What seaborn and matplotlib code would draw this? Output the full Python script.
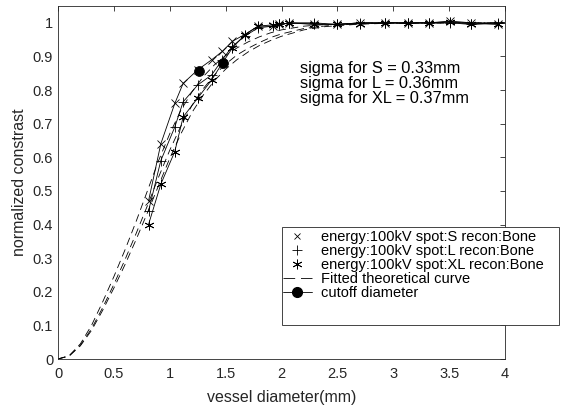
import matplotlib
matplotlib.use("Agg")
import matplotlib.pyplot as plt
from matplotlib.lines import Line2D
from matplotlib.patches import Rectangle
import seaborn as sns

# ---------------- data ----------------
x_meas = [0.81, 0.92, 1.045, 1.12, 1.25, 1.375, 1.47, 1.56, 1.67, 1.79, 1.92, 1.98,
          2.07, 2.29, 2.50, 2.70, 2.93, 3.13, 3.32, 3.51, 3.70, 3.94]
y_S = [0.47, 0.64, 0.76, 0.82, 0.86, 0.89, 0.915, 0.945, 0.965, 0.99, 0.99, 0.995,
       1.0, 0.995, 0.995, 1.0, 1.0, 1.0, 1.0, 1.005, 1.0, 0.995]
y_L = [0.44, 0.59, 0.69, 0.765, 0.815, 0.845, 0.89, 0.93, 0.96, 0.985, 0.99, 0.995,
       1.0, 1.0, 0.995, 1.0, 1.0, 1.0, 1.0, 1.0, 0.995, 1.0]
y_XL = [0.40, 0.52, 0.617, 0.72, 0.776, 0.83, 0.88, 0.925, 0.964, 0.99, 0.994, 0.995,
        0.999, 0.997, 0.995, 0.997, 1.0, 0.998, 1.0, 1.003, 0.997, 0.997]

x_fit = [0, 0.1, 0.2, 0.3, 0.4, 0.5, 0.6, 0.7, 0.8, 0.9, 1.0, 1.1, 1.2, 1.3, 1.4,
         1.5, 1.6, 1.7, 1.8, 1.9, 2.0, 2.2, 2.4, 2.7, 3.0, 4.0]
fit_S = [0, 0.01, 0.045, 0.10, 0.17, 0.245, 0.325, 0.41, 0.50, 0.59, 0.67,
         0.74, 0.795, 0.84, 0.875, 0.903, 0.925, 0.943, 0.958, 0.97, 0.979, 0.99,
         0.995, 0.999, 1.0, 1.0]
fit_L = [0, 0.009, 0.041, 0.090, 0.153, 0.222, 0.296, 0.374, 0.456, 0.541, 0.621,
         0.693, 0.755, 0.804, 0.845, 0.877, 0.904, 0.924, 0.941, 0.956, 0.967, 0.983,
         0.991, 0.997, 0.999, 1.0]
fit_XL = [0, 0.009, 0.039, 0.085, 0.145, 0.211, 0.281, 0.356, 0.435, 0.516, 0.597,
          0.67, 0.734, 0.785, 0.828, 0.862, 0.890, 0.913, 0.932, 0.947, 0.960, 0.979,
          0.989, 0.996, 0.999, 1.0]

cutoff_x = [1.26, 1.48]
cutoff_y = [0.858, 0.88]

sigma_lines = ["sigma for S = 0.33mm", "sigma for L = 0.36mm", "sigma for XL = 0.37mm"]
legend_labels = ["energy:100kV spot:S recon:Bone", "energy:100kV spot:L recon:Bone",
                 "energy:100kV spot:XL recon:Bone", "Fitted theoretical curve",
                 "cutoff diameter"]
x_ticks = [0, 0.5, 1, 1.5, 2, 2.5, 3, 3.5, 4]
x_ticklabels = ["0", "0.5", "1", "1.5", "2", "2.5", "3", "3.5", "4"]
y_ticks = [0, 0.1, 0.2, 0.3, 0.4, 0.5, 0.6, 0.7, 0.8, 0.9, 1.0]
y_ticklabels = ["0", "0.1", "0.2", "0.3", "0.4", "0.5", "0.6", "0.7", "0.8", "0.9", "1"]

# ---------------- style ----------------
sns.set_theme(style="white")
plt.rcParams['font.family'] = ['Liberation Sans', 'DejaVu Sans']
plt.rcParams['lines.scale_dashes'] = False
AX = '#262626'
W, H = 566, 411

fig = plt.figure(figsize=(W/100, H/100), dpi=100)
ax = fig.add_axes([58/W, 52/H, (505-58)/W, (359-6)/H])

ASTER = (6, 2, 0)
DASH = (5.5, 3.5)

# fitted curves
for fy in (fit_S, fit_L, fit_XL):
    sns.lineplot(x=x_fit, y=fy, ax=ax, color='black', lw=0.6, linestyle='--',
                 estimator=None, sort=False, legend=False)
for ln in ax.lines:
    ln.set_dashes(DASH)

# measured
for yy, mk, ms in ((y_S, 'x', 5.5), (y_L, '+', 7), (y_XL, ASTER, 7)):
    sns.lineplot(x=x_meas, y=yy, ax=ax, color='black', lw=0.6, marker=mk,
                 markersize=ms, markeredgecolor='black', markerfacecolor='black',
                 markeredgewidth=0.6, estimator=None, sort=False, legend=False)

# cutoff points
sns.scatterplot(x=cutoff_x, y=cutoff_y, ax=ax, color='black', s=50,
                edgecolor='black', zorder=5, legend=False)

ax.set_xlim(0, 4)
ax.set_ylim(0, 1.05)
ax.set_xticks(x_ticks)
ax.set_xticklabels(x_ticklabels)
ax.set_yticks(y_ticks)
ax.set_yticklabels(y_ticklabels)
ax.tick_params(direction='in', length=3.6, width=0.6, color=AX, labelcolor=AX,
               labelsize=10.5, top=True, right=True)
ax.tick_params(axis='x', pad=6)
ax.tick_params(axis='y', pad=3.5)
for sp in ax.spines.values():
    sp.set_color(AX)
    sp.set_linewidth(0.6)
    sp.set_visible(True)

ax.set_xlabel("vessel diameter(mm)", fontsize=11.5, color=AX, labelpad=6.5)
ax.set_ylabel("normalized constrast", fontsize=11.5, color=AX, labelpad=4)

ax.text(2.17, 0.82, "\n".join(sigma_lines), fontsize=11.8, color='black',
        ha='left', va='center', linespacing=1.02)

# legend frame (MATLAB style box with extra space at bottom)
frame = Rectangle((282.3/W, 1 - 325.3/H), (559.3-282.3)/W, (325.3-226.7)/H,
                  transform=fig.transFigure, facecolor='white', edgecolor=AX,
                  linewidth=0.6, zorder=3)
fig.add_artist(frame)

handles = [
    Line2D([], [], color='black', marker='x', linestyle='none', markersize=5,
           markeredgewidth=0.6),
    Line2D([], [], color='black', marker='+', linestyle='none', markersize=7,
           markeredgewidth=0.6),
    Line2D([], [], color='black', marker=ASTER, linestyle='none', markersize=7,
           markeredgewidth=0.6),
    Line2D([], [], color='black', linestyle='--', lw=0.6, dashes=(8.4, 4.2)),
    Line2D([], [], color='black', linestyle='-', lw=0.6, marker='o', markersize=7),
]
leg = fig.legend(handles, legend_labels, loc='upper left',
                 bbox_to_anchor=(283/W, 1 - 230/H), fontsize=10.5,
                 frameon=False, borderpad=0, labelspacing=0.0,
                 handlelength=1.97, handletextpad=0.62, borderaxespad=0,
                 numpoints=1)
leg.set_zorder(4)
for t in leg.get_texts():
    t.set_color('black')

fig.savefig("out.png", dpi=100)
